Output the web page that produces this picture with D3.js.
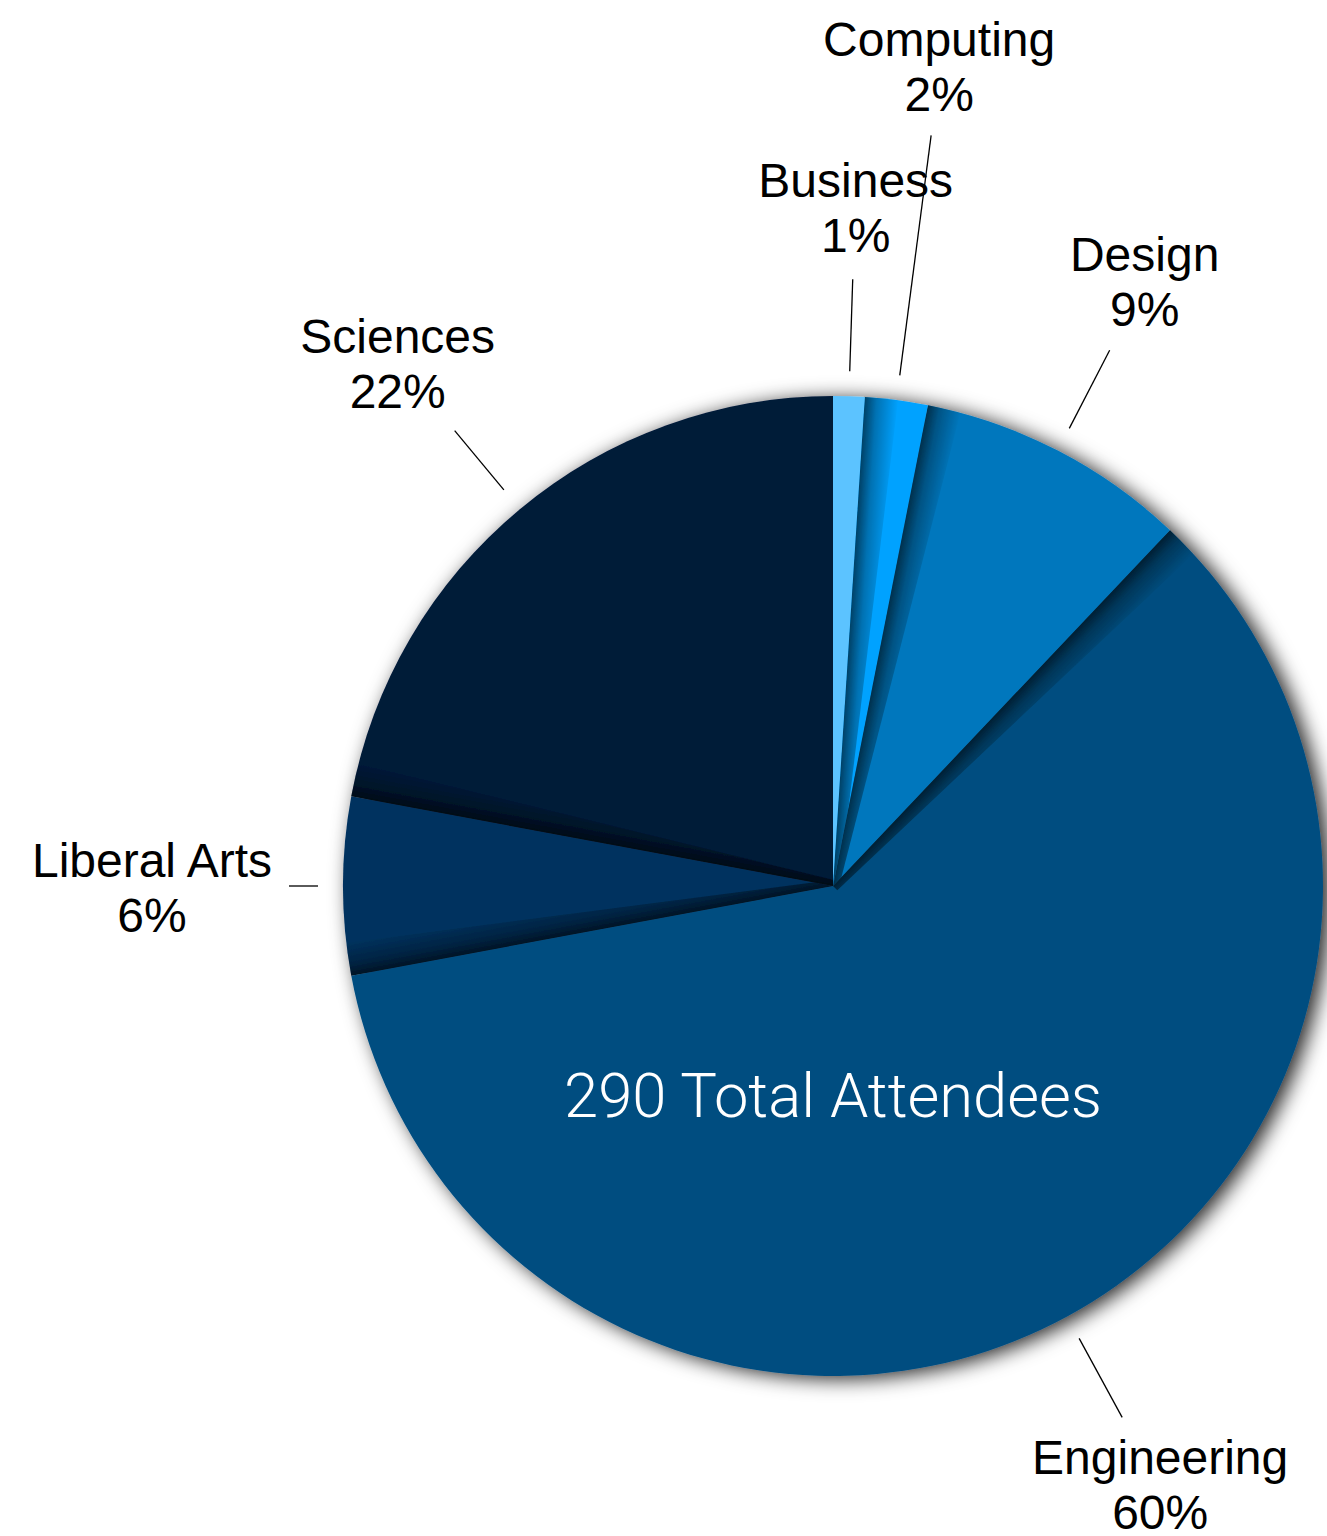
<!DOCTYPE html>
<html>
<head>
<meta charset="utf-8">
<script src="https://cdn.jsdelivr.net/npm/d3@7"></script>
<style>
  html, body { margin: 0; padding: 0; background: #fff; }
  svg { display: block; }
</style>
</head>
<body>
<div id="container"></div>
<script>
/* DATA */
const categories = ["Business", "Computing", "Design", "Engineering", "Liberal Arts", "Sciences"];
const attendees = [3, 6, 26, 174, 17, 64];
const sliceColors = ["#5cc3ff", "#00a2ff", "#0077bd", "#004e80", "#00325e", "#001a39"];

/* LAYOUT */
const width = 1327,
    height = 1536,
    cx = 833,
    cy = 886,
    radius = 490;

// label placement, per slice: outer end of leader line and text offset from it
const labelLayout = {
    "Business":     { r2: 607, dx: 3,    dy: -82 },
    "Computing":    { r2: 757, dx: 8,    dy: -79 },
    "Design":       { r2: 603, dx: 35,   dy: -79 },
    "Engineering":  { r2: 605, dx: 38,   dy: 57 },
    "Liberal Arts": { r2: 544, dx: -137, dy: -9 },
    "Sciences":     { r2: 592, dx: -57,  dy: -78 }
};

const total = d3.sum(attendees);
const rows = categories.map((c, i) => ({ name: c, value: attendees[i], color: sliceColors[i] }));

const svg = d3.select("#container")
    .append("svg")
    .attr("width", width)
    .attr("height", height);

const defs = svg.append("defs");

const drop = defs.append("filter")
    .attr("id", "drop")
    .attr("x", "-20%").attr("y", "-20%")
    .attr("width", "140%").attr("height", "140%");
drop.append("feDropShadow")
    .attr("dx", 7).attr("dy", 3)
    .attr("stdDeviation", 10)
    .attr("flood-color", "#000")
    .attr("flood-opacity", 0.85);

// soft edge gradient, dark at the slice border fading inwards
const edgeGrad = defs.append("linearGradient")
    .attr("id", "edge")
    .attr("x1", 0).attr("x2", 1).attr("y1", 0).attr("y2", 0);
edgeGrad.append("stop").attr("offset", 0).attr("stop-color", "#000").attr("stop-opacity", 0.6);
edgeGrad.append("stop").attr("offset", 0.35).attr("stop-color", "#000").attr("stop-opacity", 0.3);
edgeGrad.append("stop").attr("offset", 1).attr("stop-color", "#000").attr("stop-opacity", 0);

const pie = d3.pie().sort(null).value(d => d.value);
const arcs = pie(rows);
const arcGen = d3.arc().innerRadius(0).outerRadius(radius);

const g = svg.append("g").attr("transform", `translate(${cx},${cy})`);
const pieGroup = g.append("g").attr("filter", "url(#drop)");

arcs.forEach((a, i) => {
    defs.append("clipPath")
        .attr("id", "clip" + i)
        .append("path")
        .attr("d", arcGen(a));
});

pieGroup.selectAll("path.slice")
    .data(arcs)
    .join("path")
    .attr("class", "slice")
    .attr("d", arcGen)
    .attr("fill", d => d.data.color);

// inner edge shading on the leading edge of each slice
pieGroup.selectAll("g.shade")
    .data(arcs.filter((d, i) => i > 0))
    .join("g")
    .attr("class", "shade")
    .attr("clip-path", d => `url(#clip${d.index})`)
    .append("path")
    .attr("transform", d => `rotate(${d.startAngle * 180 / Math.PI})`)
    .attr("d", `M0,0L0,${-radius - 10}L34,${-radius - 10}L6,0Z`)
    .attr("fill", "url(#edge)");

// leader lines and labels
const pt = (ang, r) => [Math.sin(ang) * r, -Math.cos(ang) * r];
const mid = d => (d.startAngle + d.endAngle) / 2;
const labels = g.selectAll("g.label")
    .data(arcs)
    .join("g")
    .attr("class", "label");

labels.append("line")
    .attr("x1", d => pt(mid(d), 515)[0])
    .attr("y1", d => pt(mid(d), 515)[1])
    .attr("x2", d => pt(mid(d), labelLayout[d.data.name].r2)[0])
    .attr("y2", d => pt(mid(d), labelLayout[d.data.name].r2)[1])
    .attr("stroke", "#000")
    .attr("stroke-width", 1.3);

const txt = labels.append("text")
    .attr("text-anchor", "middle")
    .attr("font-family", "'Helvetica Neue', Helvetica, 'Liberation Sans', Arial, sans-serif")
    .attr("font-size", 48)
    .attr("fill", "#000")
    .attr("transform", d => {
        const p = pt(mid(d), labelLayout[d.data.name].r2);
        const L = labelLayout[d.data.name];
        return `translate(${p[0] + L.dx},${p[1] + L.dy})`;
    });
txt.append("tspan")
    .attr("x", 0).attr("y", 0)
    .text(d => d.data.name);
txt.append("tspan")
    .attr("x", 0).attr("y", 55)
    .text(d => Math.round(d.data.value / total * 100) + "%");

// total in the centre of the big slice
g.append("text")
    .attr("x", 0)
    .attr("y", 231)
    .attr("text-anchor", "middle")
    .attr("font-family", "Roboto, 'Helvetica Neue', sans-serif")
    .attr("font-weight", 300)
    .attr("font-size", 61.5)
    .attr("fill", "#fff")
    .text(`${total} Total Attendees`);
</script>
</body>
</html>
